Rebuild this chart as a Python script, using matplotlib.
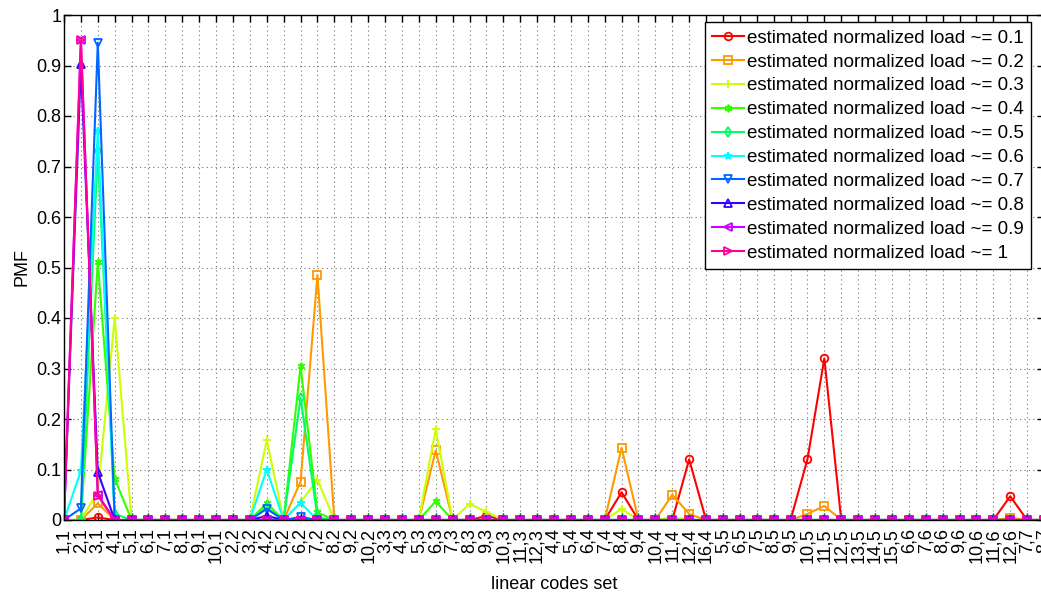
import matplotlib
matplotlib.use("Agg")
from matplotlib import pyplot as plt

plt.rcParams['font.family'] = ['Liberation Sans', 'DejaVu Sans']

# linear codes set, grouped by k (n,k)
codes = [
    "1,1", "2,1", "3,1", "4,1", "5,1", "6,1", "7,1", "8,1", "9,1", "10,1",
    "2,2", "3,2", "4,2", "5,2", "6,2", "7,2", "8,2", "9,2", "10,2",
    "3,3", "4,3", "5,3", "6,3", "7,3", "8,3", "9,3", "10,3", "11,3", "12,3",
    "4,4", "5,4", "6,4", "7,4", "8,4", "9,4", "10,4", "11,4", "12,4", "16,4",
    "5,5", "6,5", "7,5", "8,5", "9,5", "10,5", "11,5", "12,5", "13,5", "14,5", "15,5",
    "6,6", "7,6", "8,6", "9,6", "10,6", "11,6", "12,6",
    "7,7", "8,7",
]

loads = ["0.1", "0.2", "0.3", "0.4", "0.5", "0.6", "0.7", "0.8", "0.9", "1"]

#            k=1                                              k=2                                          k=3                                              k=4                                                   k=5                                                    k=6                               k=7
pmf_01 = [0, 0, 0.005, 0, 0, 0, 0, 0, 0, 0,      0, 0, 0, 0, 0, 0, 0, 0, 0,              0, 0, 0, 0, 0, 0, 0.008, 0, 0, 0,          0, 0, 0, 0, 0.055, 0, 0, 0, 0.12, 0,           0, 0, 0, 0, 0, 0.12, 0.32, 0, 0, 0, 0,        0, 0, 0, 0, 0, 0, 0.047,          0, 0]
pmf_02 = [0, 0, 0.033, 0, 0, 0, 0, 0, 0, 0,      0, 0, 0, 0, 0.076, 0.485, 0, 0, 0,      0, 0, 0, 0.138, 0, 0, 0, 0, 0, 0,          0, 0, 0, 0, 0.143, 0, 0, 0.05, 0.012, 0,       0, 0, 0, 0, 0, 0.012, 0.028, 0, 0, 0, 0,      0, 0, 0, 0, 0, 0, 0.004,          0, 0]
pmf_03 = [0, 0, 0.055, 0.40, 0, 0, 0, 0, 0, 0,   0, 0, 0.158, 0, 0.035, 0.08, 0, 0, 0,   0, 0, 0, 0.18, 0, 0.032, 0.016, 0, 0, 0,   0, 0, 0, 0, 0.022, 0, 0, 0.005, 0, 0,          0, 0, 0, 0, 0, 0, 0, 0, 0, 0, 0,              0, 0, 0, 0, 0, 0, 0,              0, 0]
pmf_04 = [0, 0, 0.51, 0.082, 0, 0, 0, 0, 0, 0,   0, 0, 0.033, 0, 0.305, 0.015, 0, 0, 0,  0, 0, 0, 0.037, 0, 0, 0, 0, 0, 0,          0, 0, 0, 0, 0, 0, 0, 0, 0, 0,                  0, 0, 0, 0, 0, 0, 0, 0, 0, 0, 0,              0, 0, 0, 0, 0, 0, 0,              0, 0]
pmf_05 = [0, 0, 0.73, 0.012, 0, 0, 0, 0, 0, 0,   0, 0, 0.025, 0, 0.242, 0.005, 0, 0, 0,  0, 0, 0, 0, 0, 0, 0, 0, 0, 0,              0, 0, 0, 0, 0, 0, 0, 0, 0, 0,                  0, 0, 0, 0, 0, 0, 0, 0, 0, 0, 0,              0, 0, 0, 0, 0, 0, 0,              0, 0]
pmf_06 = [0, 0.097, 0.77, 0, 0, 0, 0, 0, 0, 0,   0, 0, 0.10, 0, 0.034, 0, 0, 0, 0,      0, 0, 0, 0, 0, 0, 0, 0, 0, 0,              0, 0, 0, 0, 0, 0, 0, 0, 0, 0,                  0, 0, 0, 0, 0, 0, 0, 0, 0, 0, 0,              0, 0, 0, 0, 0, 0, 0,              0, 0]
pmf_07 = [0, 0.023, 0.945, 0, 0, 0, 0, 0, 0, 0,  0, 0, 0.022, 0, 0.006, 0, 0, 0, 0,     0, 0, 0, 0, 0, 0, 0, 0, 0, 0,              0, 0, 0, 0, 0, 0, 0, 0, 0, 0,                  0, 0, 0, 0, 0, 0, 0, 0, 0, 0, 0,              0, 0, 0, 0, 0, 0, 0,              0, 0]
pmf_08 = [0, 0.902, 0.095, 0, 0, 0, 0, 0, 0, 0,  0, 0, 0.008, 0, 0, 0, 0, 0, 0,        0, 0, 0, 0, 0, 0, 0, 0, 0, 0,              0, 0, 0, 0, 0, 0, 0, 0, 0, 0,                  0, 0, 0, 0, 0, 0, 0, 0, 0, 0, 0,              0, 0, 0, 0, 0, 0, 0,              0, 0]
pmf_09 = [0, 0.95, 0.05, 0, 0, 0, 0, 0, 0, 0,    0, 0, 0, 0, 0, 0, 0, 0, 0,              0, 0, 0, 0, 0, 0, 0, 0, 0, 0,              0, 0, 0, 0, 0, 0, 0, 0, 0, 0,                  0, 0, 0, 0, 0, 0, 0, 0, 0, 0, 0,              0, 0, 0, 0, 0, 0, 0,              0, 0]
pmf_10 = [0, 0.95, 0.048, 0, 0, 0, 0, 0, 0, 0,   0, 0, 0, 0, 0, 0, 0, 0, 0,              0, 0, 0, 0, 0, 0, 0, 0, 0, 0,              0, 0, 0, 0, 0, 0, 0, 0, 0, 0,                  0, 0, 0, 0, 0, 0, 0, 0, 0, 0, 0,              0, 0, 0, 0, 0, 0, 0,              0, 0]

series = [pmf_01, pmf_02, pmf_03, pmf_04, pmf_05, pmf_06, pmf_07, pmf_08, pmf_09, pmf_10]

# matlab hsv(10)
colors = [(1, 0, 0), (1, 0.6, 0), (0.8, 1, 0), (0.2, 1, 0), (0, 1, 0.4),
          (0, 1, 1), (0, 0.4, 1), (0.2, 0, 1), (0.8, 0, 1), (1, 0, 0.6)]
markers = ["o", "s", "+", (6, 2, 0), "d", "*", "v", "^", "<", ">"]

FS = 13


def main():
    fig = plt.figure(figsize=(10.41, 5.99), dpi=100)
    ax = fig.add_axes([64 / 1041, 1 - 520 / 599, 980 / 1041, 505 / 599])

    x = list(range(1, len(codes) + 1))
    for vals, load, col, mk in zip(series, loads, colors, markers):
        ax.plot(x, vals, color=col, marker=mk, markersize=5.5, markerfacecolor="none",
                markeredgewidth=1.3, linewidth=1.5,
                label=f"estimated normalized load ~= {load}")

    ax.set_xlim(1, len(codes))
    ax.set_ylim(0, 1)
    ax.set_xticks(x)
    ax.set_xticklabels(codes, rotation=90, fontsize=FS)
    ax.set_yticks([i / 10 for i in range(11)])
    ax.set_yticklabels(["0", "0.1", "0.2", "0.3", "0.4", "0.5", "0.6", "0.7", "0.8", "0.9", "1"], fontsize=FS)
    ax.tick_params(direction="in", top=True, right=True, length=5, width=1, pad=2)
    ax.tick_params(axis="x", pad=6)
    ax.grid(True, linestyle=(0, (1, 3)), color="0.45", linewidth=0.8)
    for sp in ax.spines.values():
        sp.set_linewidth(1)

    ax.set_xlabel("linear codes set", fontsize=FS, labelpad=9)
    ax.set_ylabel("PMF", fontsize=FS, labelpad=4)

    leg = ax.legend(loc="upper right", bbox_to_anchor=(0.987, 0.986), borderaxespad=0,
                    fontsize=13.5, labelspacing=0.36, handlelength=1.7, handletextpad=0.15,
                    borderpad=0.4, fancybox=False, framealpha=1, edgecolor="black")
    leg.get_frame().set_linewidth(1)

    plt.savefig("out.png", dpi=100)


if __name__ == "__main__":
    main()
